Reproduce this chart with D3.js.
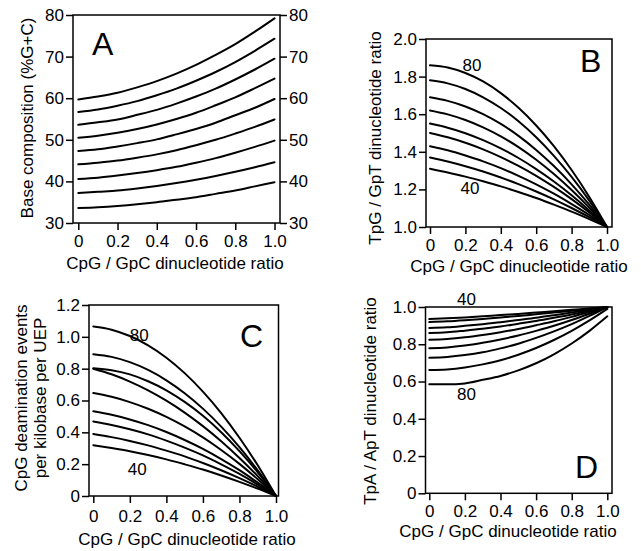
<!DOCTYPE html>
<html><head><meta charset="utf-8">
<script src="https://cdn.jsdelivr.net/npm/d3@7"></script>
<style>
html,body{margin:0;padding:0;background:#fff;}
svg{display:block;}
text{font-family:"Liberation Sans",Arial,Helvetica,sans-serif;fill:#000;}
</style></head><body>
<svg id="chart" width="641" height="551"></svg>
<script>
// ---------- data ----------
const ratio = [0, 0.1, 0.2, 0.3, 0.4, 0.5, 0.6, 0.7, 0.8, 0.9, 1.0];
const gcLevels = ["80", "75", "70", "65", "60", "55", "50", "45", "40"];
const xTicks = [0, 0.2, 0.4, 0.6, 0.8, 1.0];
const ticksA = [30, 40, 50, 60, 70, 80];
const ticksB = [1.0, 1.2, 1.4, 1.6, 1.8, 2.0];
const ticksC = [0, 0.2, 0.4, 0.6, 0.8, 1.0, 1.2];
const ticksD = [0, 0.2, 0.4, 0.6, 0.8, 1.0];

// A: base composition (%G+C) vs CpG/GpC ratio
const baseComposition = [
  [59.7, 60.4, 61.3, 62.6, 64.1, 65.9, 68.0, 70.4, 73.0, 76.0, 79.2],
  [56.7, 57.3, 58.2, 59.3, 60.7, 62.3, 64.2, 66.3, 68.7, 71.4, 74.3],
  [53.6, 54.2, 54.9, 56.0, 57.2, 58.7, 60.4, 62.3, 64.5, 66.9, 69.5],
  [50.5, 51.0, 51.7, 52.6, 53.7, 55.0, 56.5, 58.3, 60.2, 62.4, 64.7],
  [47.3, 47.7, 48.4, 49.2, 50.1, 51.3, 52.6, 54.1, 55.9, 57.7, 59.8],
  [44.1, 44.5, 45.0, 45.7, 46.5, 47.5, 48.7, 50.0, 51.5, 53.1, 54.9],
  [40.6, 40.9, 41.4, 42.0, 42.7, 43.5, 44.5, 45.6, 46.9, 48.3, 49.8],
  [37.2, 37.5, 37.8, 38.3, 38.9, 39.6, 40.4, 41.3, 42.3, 43.4, 44.6],
  [33.6, 33.8, 34.1, 34.5, 35.0, 35.6, 36.2, 37.0, 37.8, 38.8, 39.8]
];

// B: TpG / GpT ratio
const tpgGpt = [
  [1.860, 1.848, 1.819, 1.774, 1.712, 1.634, 1.540, 1.430, 1.303, 1.160, 1.0],
  [1.780, 1.764, 1.734, 1.690, 1.633, 1.562, 1.477, 1.378, 1.266, 1.140, 1.0],
  [1.690, 1.671, 1.641, 1.600, 1.548, 1.485, 1.410, 1.324, 1.227, 1.119, 1.0],
  [1.620, 1.599, 1.569, 1.530, 1.482, 1.425, 1.358, 1.282, 1.197, 1.103, 1.0],
  [1.550, 1.528, 1.499, 1.462, 1.418, 1.367, 1.308, 1.242, 1.169, 1.088, 1.0],
  [1.500, 1.477, 1.448, 1.413, 1.372, 1.325, 1.272, 1.213, 1.148, 1.077, 1.0],
  [1.430, 1.408, 1.380, 1.349, 1.313, 1.272, 1.227, 1.177, 1.122, 1.064, 1.0],
  [1.370, 1.348, 1.323, 1.295, 1.263, 1.228, 1.189, 1.147, 1.101, 1.052, 1.0],
  [1.310, 1.290, 1.268, 1.243, 1.216, 1.186, 1.154, 1.119, 1.082, 1.042, 1.0]
];

// C: CpG deamination events per kilobase per UEP
const deamination = [
  [1.065, 1.045, 1.005, 0.947, 0.869, 0.772, 0.656, 0.521, 0.366, 0.193, 0.0],
  [0.891, 0.874, 0.841, 0.792, 0.727, 0.646, 0.549, 0.436, 0.307, 0.161, 0.0],
  [0.802, 0.790, 0.764, 0.721, 0.664, 0.591, 0.504, 0.401, 0.282, 0.149, 0.0],
  [0.800, 0.765, 0.719, 0.664, 0.599, 0.524, 0.439, 0.344, 0.239, 0.125, 0.0],
  [0.647, 0.623, 0.590, 0.548, 0.497, 0.437, 0.368, 0.289, 0.202, 0.105, 0.0],
  [0.532, 0.510, 0.481, 0.445, 0.402, 0.352, 0.296, 0.232, 0.162, 0.084, 0.0],
  [0.468, 0.446, 0.419, 0.387, 0.348, 0.304, 0.255, 0.199, 0.139, 0.072, 0.0],
  [0.390, 0.370, 0.346, 0.318, 0.285, 0.249, 0.207, 0.162, 0.112, 0.058, 0.0],
  [0.319, 0.301, 0.281, 0.257, 0.230, 0.199, 0.166, 0.129, 0.089, 0.046, 0.0]
];

// D: TpA / ApT ratio
const tpaApt = [
  [0.935, 0.939, 0.944, 0.950, 0.957, 0.963, 0.970, 0.977, 0.985, 0.992, 1.0],
  [0.919, 0.923, 0.929, 0.936, 0.944, 0.952, 0.961, 0.970, 0.980, 0.990, 1.0],
  [0.887, 0.891, 0.899, 0.908, 0.918, 0.930, 0.942, 0.956, 0.970, 0.985, 1.0],
  [0.860, 0.864, 0.873, 0.883, 0.895, 0.910, 0.925, 0.942, 0.960, 0.980, 1.0],
  [0.824, 0.828, 0.837, 0.850, 0.865, 0.882, 0.902, 0.923, 0.947, 0.973, 1.0],
  [0.779, 0.783, 0.793, 0.808, 0.826, 0.847, 0.872, 0.899, 0.930, 0.964, 1.0],
  [0.728, 0.732, 0.742, 0.757, 0.778, 0.803, 0.834, 0.869, 0.908, 0.952, 1.0],
  [0.662, 0.665, 0.675, 0.692, 0.714, 0.744, 0.780, 0.823, 0.872, 0.928, 0.99],
  [0.586, 0.585, 0.590, 0.609, 0.630, 0.660, 0.698, 0.746, 0.804, 0.872, 0.95]
];

const xLabel = "CpG / GpC dinucleotide ratio";

// ---------- drawing ----------
const svg = d3.select("#chart");
const FONT = 17;
const fmt1 = d3.format(".1f");
const fmtZero = d => d === 0 ? "0" : fmt1(d);

const panels = [
  { letter: "A", data: baseComposition, yDomain: [30, 80], yTicks: ticksA, yFmt: d3.format("d"),
    box: {l: 73, r: 280, t: 15, b: 223}, xr: [78.3, 274.5], rightAxis: true, xPad: 5,
    yLabel: ["Base composition (%G+C)"], yLabelX: [33], yLabelY: 118, xLabelX: 175, xLabelY: 269,
    letterPos: [92, 55], curveLabels: [] },
  { letter: "B", data: tpgGpt, yDomain: [1, 2], yTicks: ticksB, yFmt: fmt1,
    box: {l: 426, r: 612, t: 39, b: 227}, xr: [430, 607], rightAxis: false, xPad: 5,
    yLabel: ["TpG / GpT dinucleotide ratio"], yLabelX: [381], yLabelY: 138, xLabelX: 519, xLabelY: 272,
    letterPos: [580, 72], curveLabels: [["80", 0.237, 1.857], ["40", 0.226, 1.207]] },
  { letter: "C", data: deamination, yDomain: [0, 1.2], yTicks: ticksC, yFmt: fmtZero,
    box: {l: 89, r: 278.5, t: 305, b: 496}, xr: [93.3, 276], rightAxis: false, xPad: 7,
    yLabel: ["CpG deamination events", "per kilobase per UEP"], yLabelX: [27, 46], yLabelY: 398, xLabelX: 187, xLabelY: 545,
    letterPos: [240, 347], curveLabels: [["80", 0.251, 1.006], ["40", 0.240, 0.169]] },
  { letter: "D", data: tpaApt, yDomain: [0, 1], yTicks: ticksD, yFmt: fmtZero,
    box: {l: 425.5, r: 612, t: 307, b: 493.3}, xr: [429.3, 607.3], rightAxis: false, xPad: 5,
    yLabel: ["TpA / ApT dinucleotide ratio"], yLabelX: [376], yLabelY: 401, xLabelX: 508, xLabelY: 537,
    letterPos: [575, 478], curveLabels: [["40", 0.209, 1.038], ["80", 0.209, 0.531]] }
];

panels.forEach(p => {
  const g = svg.append("g").attr("class", "panel-" + p.letter);
  const x = d3.scaleLinear().domain([0, 1]).range(p.xr);
  const y = d3.scaleLinear().domain(p.yDomain).range([p.box.b, p.box.t]);

  // frame
  g.append("rect")
    .attr("x", p.box.l).attr("y", p.box.t)
    .attr("width", p.box.r - p.box.l).attr("height", p.box.b - p.box.t)
    .attr("fill", "none").attr("stroke", "#000").attr("stroke-width", 1.5);

  const styleAxis = sel => {
    sel.select(".domain").remove();
    sel.attr("font-size", FONT).attr("font-family", "'Liberation Sans', Arial, sans-serif");
    sel.selectAll(".tick line").attr("stroke", "#000").attr("stroke-width", 1.5);
    sel.selectAll(".tick text").attr("fill", "#000");
  };

  // left axis
  g.append("g").attr("transform", `translate(${p.box.l},0)`)
    .call(d3.axisLeft(y).tickValues(p.yTicks).tickFormat(p.yFmt).tickSize(7).tickPadding(2))
    .call(styleAxis);
  if (p.rightAxis) {
    g.append("g").attr("transform", `translate(${p.box.r},0)`)
      .call(d3.axisRight(y).tickValues(p.yTicks).tickFormat(p.yFmt).tickSize(7).tickPadding(2))
      .call(styleAxis);
  }
  // bottom axis
  g.append("g").attr("transform", `translate(0,${p.box.b})`)
    .call(d3.axisBottom(x).tickValues(xTicks).tickFormat(fmtZero).tickSize(7).tickPadding(p.xPad))
    .call(styleAxis);

  // curves
  const line = d3.line()
    .x((d, i) => x(ratio[i]))
    .y(d => y(d))
    .curve(d3.curveMonotoneX);
  g.append("g").selectAll("path")
    .data(p.data)
    .join("path")
    .attr("d", line)
    .attr("fill", "none")
    .attr("stroke", "#000")
    .attr("stroke-width", 2)
    .attr("stroke-linecap", "round");

  // curve labels
  p.curveLabels.forEach(([t, vx, vy]) => {
    g.append("text").attr("x", x(vx)).attr("y", y(vy))
      .attr("text-anchor", "middle").attr("dominant-baseline", "central")
      .attr("font-size", FONT).text(t);
  });

  // panel letter
  g.append("text").attr("x", p.letterPos[0]).attr("y", p.letterPos[1])
    .attr("font-size", 32).text(p.letter);

  // x label
  g.append("text").attr("x", p.xLabelX).attr("y", p.xLabelY)
    .attr("text-anchor", "middle").attr("font-size", FONT).text(xLabel);

  // y label(s)
  p.yLabel.forEach((t, i) => {
    g.append("text")
      .attr("transform", `translate(${p.yLabelX[i]},${p.yLabelY}) rotate(-90)`)
      .attr("text-anchor", "middle").attr("font-size", FONT).text(t);
  });
});
</script>
</body></html>
